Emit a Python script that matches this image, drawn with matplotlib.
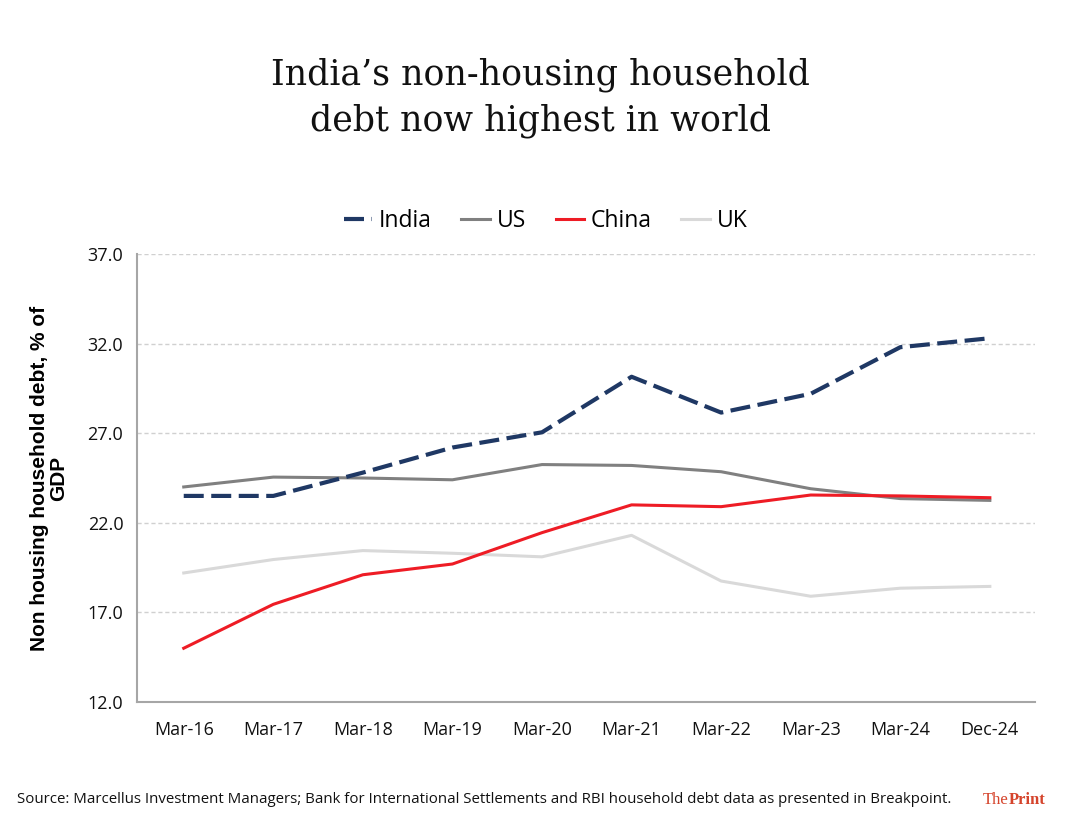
import matplotlib
matplotlib.use("Agg")
import matplotlib.pyplot as plt

periods = ["Mar-16", "Mar-17", "Mar-18", "Mar-19", "Mar-20", "Mar-21",
           "Mar-22", "Mar-23", "Mar-24", "Dec-24"]
india = [23.5, 23.5, 24.8, 26.2, 27.05, 30.15, 28.15, 29.2, 31.8, 32.3]
us = [24.0, 24.55, 24.5, 24.4, 25.25, 25.2, 24.85, 23.9, 23.35, 23.25]
china = [15.0, 17.45, 19.1, 19.7, 21.45, 23.0, 22.9, 23.55, 23.5, 23.4]
uk = [19.2, 19.95, 20.45, 20.3, 20.1, 21.3, 18.75, 17.9, 18.35, 18.45]
yticks = [12.0, 17.0, 22.0, 27.0, 32.0, 37.0]

fig = plt.figure(figsize=(10.8, 8.35), dpi=100)
ax = fig.add_axes([0.127, 0.1593, 0.831, 0.5365])

x = list(range(len(periods)))
ax.plot(x, india, color="#1f3864", lw=3.0, dashes=(4.8, 1.8), label="India",
        solid_capstyle="butt", dash_capstyle="butt", zorder=5)
ax.plot(x, us, color="#808080", lw=2.2, label="US", zorder=3)
ax.plot(x, china, color="#ee1c25", lw=2.2, label="China", zorder=4)
ax.plot(x, uk, color="#d9d9d9", lw=2.2, label="UK", zorder=2)

ax.set_xlim(-0.52, 9.5)
ax.set_ylim(12, 37)
ax.set_yticks(yticks)
ax.set_yticklabels([f"{v:.1f}" for v in yticks])
ax.set_xticks(x)
ax.set_xticklabels(periods)
ax.tick_params(length=0, labelsize=13, colors="#111111")
ax.tick_params(axis="x", pad=14)
ax.tick_params(axis="y", pad=10)
for lab in ax.get_xticklabels() + ax.get_yticklabels():
    lab.set_family(["Open Sans", "DejaVu Sans"])

ax.grid(axis="y", color="#d0d0d0", ls=(0, (3, 2)), lw=1.0)
ax.set_axisbelow(True)
for s in ["top", "right"]:
    ax.spines[s].set_visible(False)
for s in ["left", "bottom"]:
    ax.spines[s].set_color("#a6a6a6")
    ax.spines[s].set_linewidth(1.5)

ax.set_ylabel("Non housing household debt, % of\nGDP", fontsize=15,
              fontweight="bold", family=["Liberation Sans", "DejaVu Sans"],
              labelpad=14, linespacing=1.0)

leg = ax.legend(loc="lower center", bbox_to_anchor=(0.455, 1.0), ncol=4,
                frameon=False, handlelength=1.25,
                columnspacing=1.3, handletextpad=0.28,
                prop={"family": ["Open Sans", "DejaVu Sans"], "size": 16.5})

title_font = ["DejaVu Serif", "Liberation Serif"]
fig.text(0.5, 0.910, "India’s non-housing household", ha="center", va="center",
         fontsize=25, family=title_font, color="#111111")
fig.text(0.5, 0.855, "debt now highest in world", ha="center", va="center",
         fontsize=25, family=title_font, color="#111111")

fig.text(0.016, 0.042,
         "Source: Marcellus Investment Managers; Bank for International Settlements and RBI household debt data as presented in Breakpoint.",
         ha="left", va="center", fontsize=10.8,
         family=["Open Sans", "DejaVu Sans"], color="#111111")
t_the = fig.text(0.910, 0.042, "The", ha="left", va="center", fontsize=12,
                 family=["Liberation Serif", "DejaVu Serif"], color="#d5442c")
ax.annotate("Print", xy=(1, 0), xycoords=t_the, ha="left", va="bottom",
            fontsize=12, fontweight="bold",
            family=["Liberation Serif", "DejaVu Serif"], color="#d5442c",
            annotation_clip=False)

fig.savefig("out.png", dpi=100)
